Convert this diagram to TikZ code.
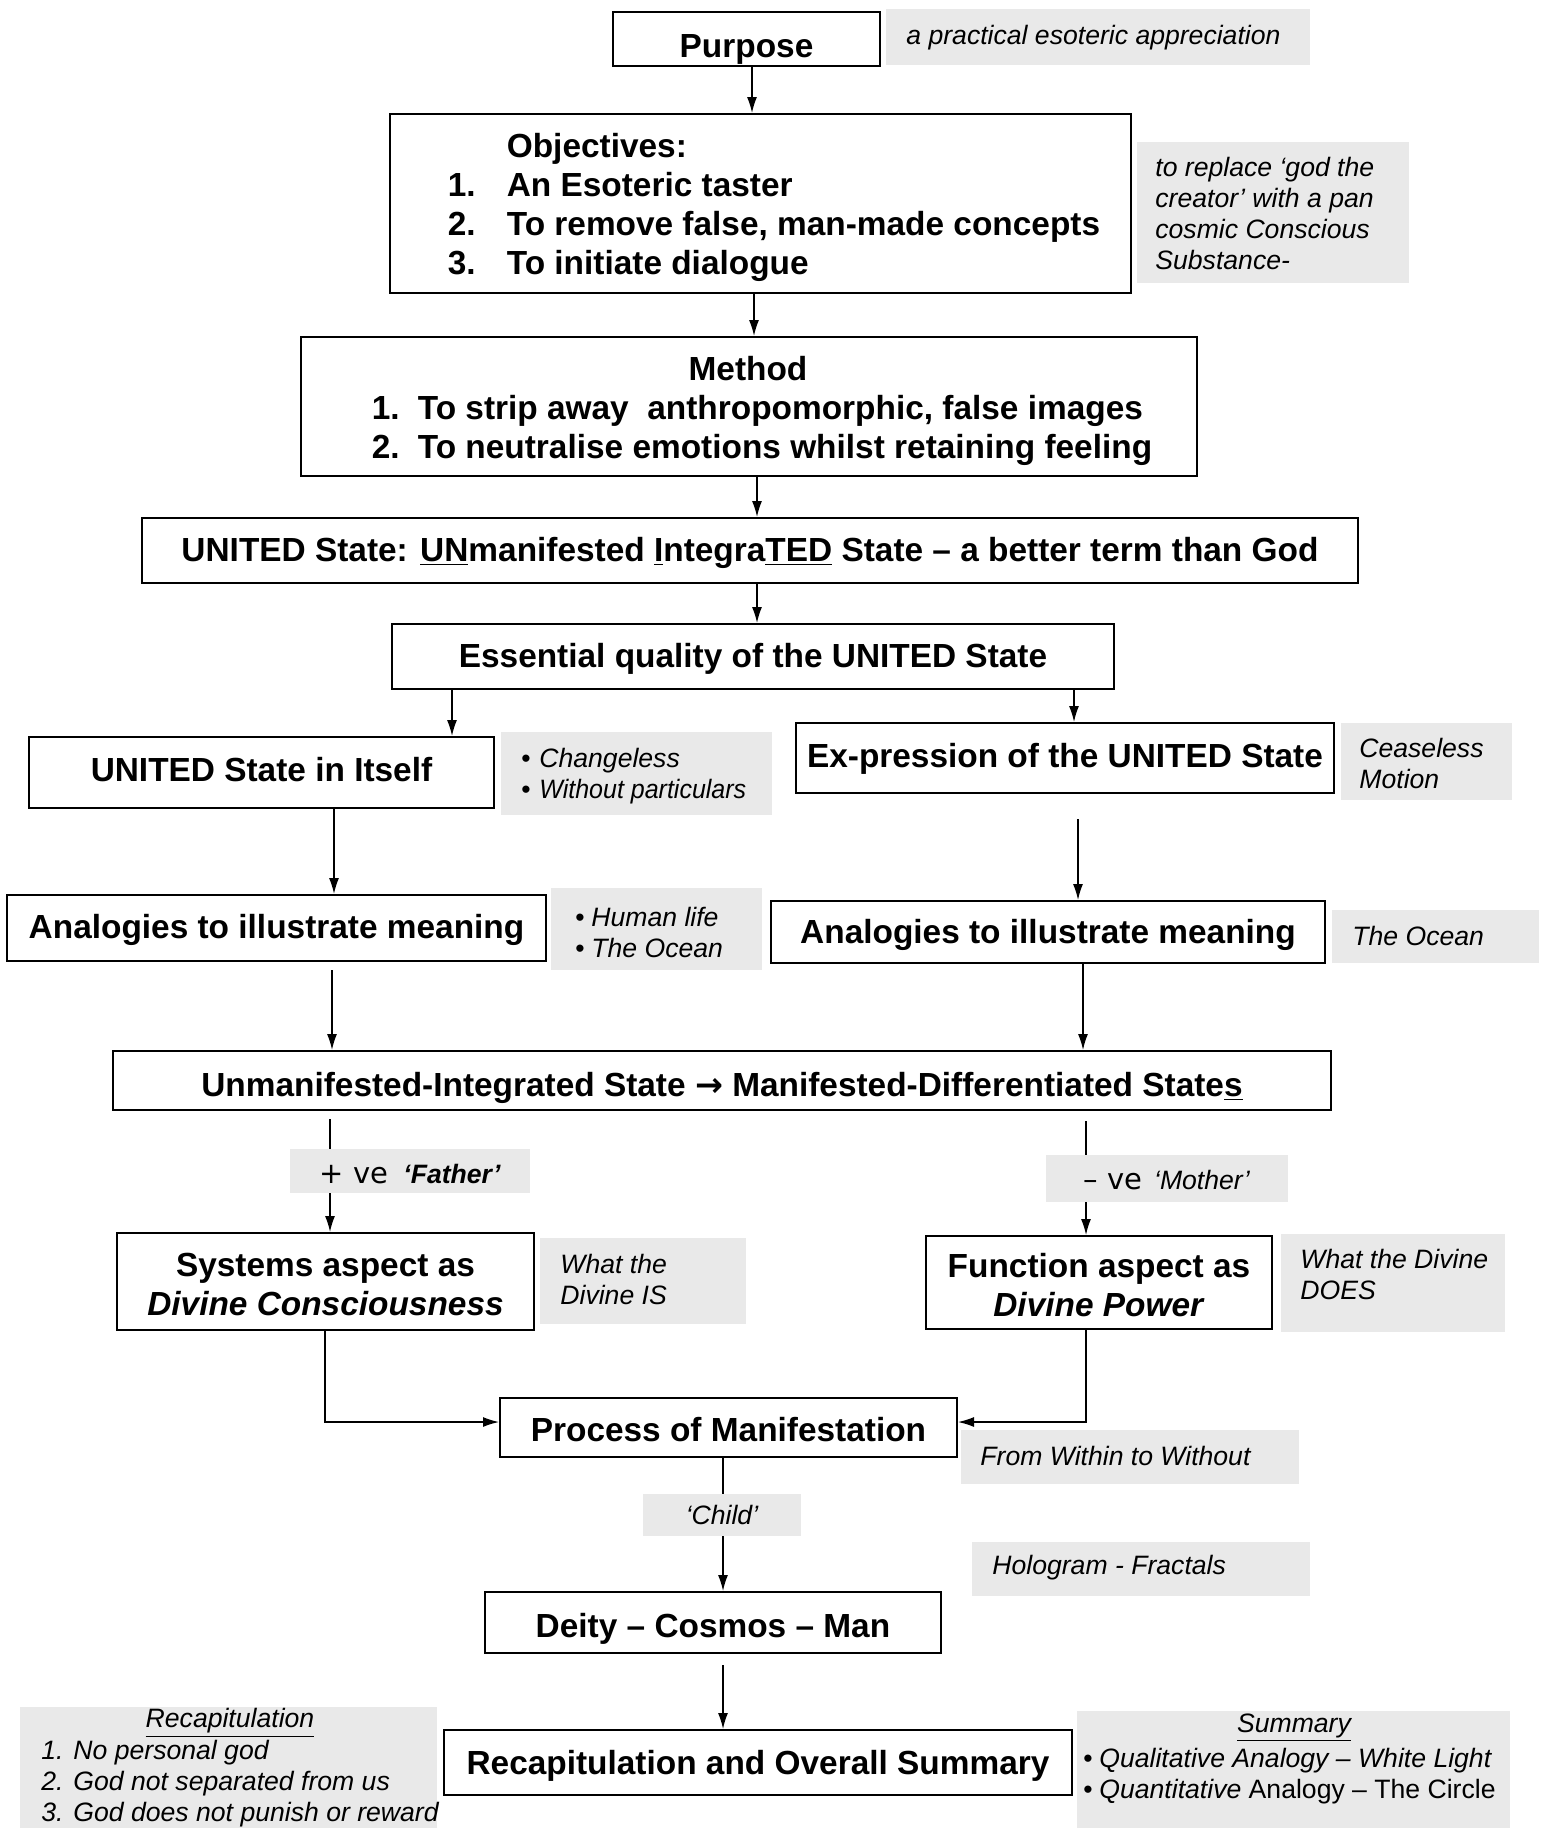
\documentclass[tikz,border=0pt]{standalone}
\usepackage{fontspec}
\setmainfont{Liberation Sans}
\newfontfamily\dejavu{DejaVu Sans}
\usetikzlibrary{arrows.meta}
\definecolor{notegray}{RGB}{233,233,233}
\newcommand\lowertext[2]{\raisebox{-#1}[\height][\depth]{#2}}
\tikzset{
 box/.style={draw=black, line width=1pt, fill=white, inner sep=0pt, font=\bfseries\fontsize{16.7}{19.5}\selectfont, align=center},
 note/.style={fill=notegray, inner sep=0pt, align=center},
 ntext/.style={inner sep=0pt, align=left, font=\itshape\fontsize{13.3}{15.5}\selectfont},
 sz/.style 2 args={minimum width=#1*0.5pt, minimum height=#2*0.5pt},
 arr/.style={line width=0.7pt, -{Latex[length=8pt,width=5pt]}},
 ln/.style={line width=0.7pt},
}
\begin{document}
\begin{tikzpicture}[x=0.5pt,y=-0.5pt]
\useasboundingbox (0,0) rectangle (1541,1828);
\fill[white] (0,0) rectangle (1541,1828);
% notes
\node[note, sz={424}{56}] (purposenote) at (1098,37) {};
\node[ntext, anchor=west] (purposenotet) at (906,37.5) {a practical esoteric appreciation};
\node[note, sz={272}{141}] (objnote) at (1273,212.5) {};
\node[ntext, anchor=west] (objnotet) at (1155,213.5) {to replace ‘god the\\creator’ with a pan\\cosmic Conscious\\Substance-};
\node[note, sz={271}{83}] (itselfnote) at (636.5,773.5) {};
\node[ntext, anchor=west] (itselfnotet) at (521,776) {\makebox[9pt][l]{\upshape•}Changeless\\\makebox[9pt][l]{\upshape•}\scalebox{0.94}[1]{Without particulars}};
\node[note, sz={171}{77}] (exprnote) at (1426.5,761.5) {};
\node[ntext, anchor=west] (exprnotet) at (1359,763.5) {Ceaseless\\Motion};
\node[note, sz={211}{82}] (analnote) at (656.5,929) {};
\node[ntext, anchor=west] (analnotet) at (575,932) {\makebox[8pt][l]{\upshape•}Human life\\\makebox[8pt][l]{\upshape•}The Ocean};
\node[note, sz={207}{53}] (anarnote) at (1435.5,936.5) {};
\node[ntext, anchor=west] (anarnotet) at (1352,936) {The Ocean};
\node[note, sz={240}{44}] (father) at (410,1171) {\lowertext{1.7pt}{\fontsize{13.3}{16}\selectfont{\dejavu\fontsize{14.5}{16}\selectfont +\hspace{0.35em}ve}\hspace{0.55em}\textbf{\textit{‘Father’}}}};
\node[note, sz={242}{47}] (mother) at (1167,1178.5) {\lowertext{1pt}{\fontsize{13.3}{16}\selectfont{\dejavu\fontsize{14.5}{16}\selectfont –\hspace{0.3em}ve}\hspace{0.45em}\textit{‘Mother’}}};
\node[note, sz={206}{86}] (sysnote) at (643,1281) {};
\node[ntext, anchor=west] (sysnotet) at (560,1279) {What the\\Divine IS};
\node[note, sz={224}{98}] (funcnote) at (1393,1283) {};
\node[ntext, anchor=west] (funcnotet) at (1300,1274.5) {What the Divine\\DOES};
\node[note, sz={338}{54}] (withinnote) at (1130,1457) {};
\node[ntext, anchor=west] (withinnotet) at (980,1456) {From Within to Without};
\node[note, sz={158}{42}, font=\itshape\fontsize{13.3}{15.5}\selectfont] (child) at (722,1515) {‘Child’};
\node[note, sz={338}{54}] (holonote) at (1141,1569) {};
\node[ntext, anchor=west] (holonotet) at (992,1568) {Hologram - Fractals};
\node[note, sz={417}{121}] (recapnote) at (228.5,1767.5) {};
\node[ntext] (recaphead) at (230,1723) {\underline{Recapitulation}};
\node[ntext, anchor=west] (recaplist) at (41,1784) {1. No personal god\\2. God not separated from us\\3. God does not punish or reward};
\node[note, sz={433}{117}] (sumnote) at (1293.5,1769.5) {};
\node[ntext] (sumhead) at (1294,1728) {\underline{Summary}};
\node[ntext, anchor=west] (sumlist) at (1083,1776) {\makebox[8pt][l]{\upshape•}Qualitative Analogy – White Light\\\makebox[8pt][l]{\upshape•}Quantitative \upshape Analogy – The Circle};
% boxes
\node[box, sz={267}{54}] (purpose) at (746.5,39) {\lowertext{5pt}{Purpose}};
\node[box, sz={741}{179}] (obj) at (760.5,203.5) {\hspace*{13.5pt}\lowertext{2.3pt}{\begin{tabular}{@{}l@{}l@{}} & Objectives:\\ \makebox[29.5pt][l]{1.} & An Esoteric taster\\ \makebox[29.5pt][l]{2.} & To remove false, man-made concepts\\ \makebox[29.5pt][l]{3.} & To initiate dialogue\end{tabular}}};
\node[box, sz={896}{139}] (method) at (749,406.5) {\hspace*{13pt}\lowertext{2.4pt}{\begin{tabular}{@{}l@{}}\multicolumn{1}{@{}c@{}}{Method\hspace*{14pt}}\\ \makebox[23pt][l]{1.}To strip away\ \ anthropomorphic, false images\\ \makebox[23pt][l]{2.}To neutralise emotions whilst retaining feeling\end{tabular}}};
\node[box, sz={1216}{65}] (united) at (750,550.5) {\lowertext{1.2pt}{UNITED State: \underline{UN}manifested \underline{I}ntegra\underline{TED} State – a better term than God}};
\node[box, sz={722}{65}] (essential) at (753,656.5) {\lowertext{1.2pt}{Essential quality of the UNITED State}};
\node[box, sz={465}{71}] (itself) at (261.5,772.5) {\lowertext{-1.5pt}{UNITED State in Itself}};
\node[box, sz={538}{70}] (expr) at (1065,758) {\lowertext{0.5pt}{Ex-pression of the UNITED State}};
\node[box, sz={539}{66}] (anal) at (276.5,928) {\lowertext{1.2pt}{Analogies to illustrate meaning}};
\node[box, sz={554}{62}] (anar) at (1048,932) {\lowertext{1.7pt}{Analogies to illustrate meaning}};
\node[box, sz={1218}{59}] (unman) at (722,1080.5) {\lowertext{3.5pt}{Unmanifested-Integrated State {\dejavu\bfseries →} Manifested-Differentiated State\underline{s}}};
\node[box, sz={417}{97}] (systems) at (325.5,1281.5) {\lowertext{3.3pt}{\begin{tabular}{@{}c@{}}Systems aspect as\\\textit{Divine Consciousness}\end{tabular}}};
\node[box, sz={346}{93}] (function) at (1099,1282.5) {\lowertext{3.5pt}{\begin{tabular}{@{}c@{}}Function aspect as\\\textit{Divine Power}\end{tabular}}};
\node[box, sz={457}{59}] (process) at (728.5,1427.5) {\lowertext{1.2pt}{Process of Manifestation}};
\node[box, sz={456}{61}] (deity) at (713,1622.5) {\lowertext{3.3pt}{Deity – Cosmos – Man}};
\node[box, sz={628}{65}] (recap) at (758,1762.5) {\lowertext{1.7pt}{Recapitulation and Overall Summary}};
% free ends
\coordinate (e8) at (1078,819);
\coordinate (e9) at (332,970);
\coordinate (e11) at (330,1119);
\coordinate (e12) at (1086,1121);
\coordinate (e16) at (723,1665);
% connectors
\draw[arr] (purpose.south -| 752,0) -- (obj.north -| 752,0);
\draw[arr] (obj.south -| 754,0) -- (method.north -| 754,0);
\draw[arr] (method.south -| 757,0) -- (united.north -| 757,0);
\draw[arr] (united.south -| 757,0) -- (essential.north -| 757,0);
\draw[arr] (essential.south -| 452,0) -- (itself.north -| 452,0);
\draw[arr] (essential.south -| 1074,0) -- (expr.north -| 1074,0);
\draw[arr] (itself.south -| 334,0) -- (anal.north -| 334,0);
\draw[arr] (e8) -- (anar.north -| e8);
\draw[arr] (e9) -- (unman.north -| e9);
\draw[arr] (anar.south -| 1083,0) -- (unman.north -| 1083,0);
\draw[ln] (e11) -- (father.north -| e11);
\draw[arr] (father.south -| e11) -- (systems.north -| e11);
\draw[ln] (e12) -- (mother.north -| e12);
\draw[arr] (mother.south -| e12) -- (function.north -| e12);
\draw[arr] (systems.south -| 325,0) |- ([yshift=2.75pt]process.west);
\draw[arr] (function.south -| 1086,0) |- ([yshift=2.75pt]process.east);
\draw[ln] (process.south -| 723,0) -- (child.north -| 723,0);
\draw[arr] (child.south -| 723,0) -- (deity.north -| 723,0);
\draw[arr] (e16) -- (recap.north -| e16);
\end{tikzpicture}
\end{document}
